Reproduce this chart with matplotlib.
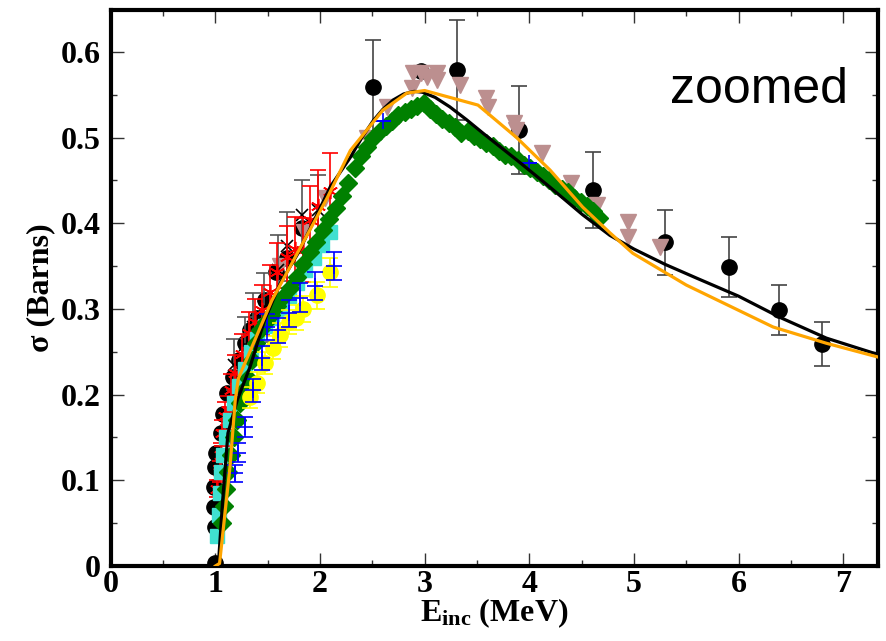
import matplotlib
matplotlib.use("Agg")
import matplotlib.pyplot as plt
from matplotlib.ticker import MultipleLocator

plt.rcParams['font.family'] = ['Liberation Serif', 'DejaVu Serif']
plt.rcParams['font.weight'] = 'bold'
plt.rcParams['mathtext.fontset'] = 'custom'
plt.rcParams['mathtext.rm'] = 'Liberation Serif:bold'
plt.rcParams['mathtext.it'] = 'Liberation Serif:bold'
plt.rcParams['mathtext.bf'] = 'Liberation Serif:bold'

# ---- theory curves ----
black_x = [1.0, 1.03, 1.07, 1.12, 1.21, 1.33, 1.47, 1.62, 1.79, 1.95, 2.10, 2.29, 2.40, 2.51, 2.60, 2.70,
           2.80, 2.90, 2.98, 3.10, 3.24, 3.40, 3.56, 3.88, 4.19, 4.51, 4.77, 5.0, 5.3, 5.6, 6.0, 6.4,
           6.84, 7.33]
black_y = [0.0, 0.004, 0.077, 0.155, 0.194, 0.232, 0.287, 0.33, 0.365, 0.405, 0.443, 0.477, 0.50, 0.52, 0.533,
           0.544, 0.551, 0.554, 0.553, 0.547, 0.536, 0.521, 0.505, 0.474, 0.443, 0.41, 0.386, 0.37, 0.352,
           0.336, 0.315, 0.29, 0.266, 0.247]

orange_x = [1.0, 1.04, 1.14, 1.19, 1.22, 1.54, 2.07, 2.29, 2.60, 2.83, 3.0, 3.51, 3.88, 4.20, 4.51,
            4.77, 4.99, 5.50, 6.33, 6.84, 7.33]
orange_y = [0.0, 0.003, 0.116, 0.194, 0.219, 0.31, 0.43, 0.485, 0.532, 0.552, 0.555, 0.538, 0.50, 0.462, 0.419,
            0.389, 0.365, 0.328, 0.279, 0.26, 0.244]

# ---- black circles with error bars (high energy) ----
bc_x = [2.51, 3.31, 3.90, 4.61, 5.30, 5.91, 6.39, 6.80]
bc_y = [0.559, 0.579, 0.509, 0.439, 0.378, 0.349, 0.299, 0.259]
bc_err = [0.055, 0.058, 0.051, 0.044, 0.038, 0.035, 0.029, 0.026]

# ---- black circles, low energy (no bars) ----
bl_x = [1.0, 1.0, 0.99, 0.99, 1.0, 1.01, 1.05, 1.07, 1.11, 1.17, 1.23, 1.28, 1.33, 1.40, 1.47, 1.58, 1.68, 1.83, 2.97]
bl_y = [0.003, 0.045, 0.069, 0.092, 0.116, 0.132, 0.155, 0.178, 0.202, 0.221, 0.24, 0.26, 0.275, 0.29, 0.31,
        0.343, 0.36, 0.394, 0.578]

# ---- rosy brown triangles ----
tri_x = [1.62, 1.85, 2.05, 2.45, 2.64, 2.88, 2.89, 2.97, 3.02, 3.12, 3.12, 3.34, 3.59, 3.61, 3.85, 3.87,
         4.12, 4.40, 4.65, 4.94, 4.94, 5.25]
tri_y = [0.35, 0.39, 0.43, 0.50, 0.536, 0.558, 0.576, 0.576, 0.571, 0.576, 0.567, 0.561, 0.546, 0.536, 0.517,
         0.509, 0.482, 0.447, 0.421, 0.401, 0.384, 0.372]

# ---- black x with gray error bars ----
xm_x = [1.18, 1.28, 1.36, 1.46, 1.60, 1.68, 1.83, 1.98]
xm_y = [0.235, 0.258, 0.279, 0.302, 0.346, 0.373, 0.41, 0.416]
xm_err = [0.03, 0.033, 0.04, 0.04, 0.04, 0.04, 0.04, 0.04]

# ---- red asterisks ----
red_x = [1.02, 1.04, 1.05, 1.06, 1.09, 1.12, 1.15, 1.19, 1.25, 1.32, 1.38, 1.45, 1.52, 1.59, 1.68, 1.76,
         1.84, 1.90, 1.98, 2.10]
red_y = [0.09, 0.11, 0.13, 0.155, 0.175, 0.182, 0.205, 0.225, 0.248, 0.272, 0.285, 0.299, 0.32, 0.343, 0.361,
         0.37, 0.369, 0.404, 0.42, 0.438]
red_err = [0.01, 0.012, 0.013, 0.015, 0.016, 0.017, 0.019, 0.021, 0.023, 0.025, 0.027, 0.029, 0.031, 0.034,
           0.036, 0.037, 0.037, 0.04, 0.042, 0.044]

# ---- turquoise ----
tq_x = [1.02, 1.03, 1.04, 1.05, 1.07, 1.10, 1.14, 1.18, 1.23, 1.28, 1.34, 1.40, 1.47, 1.54, 1.62, 1.70,
        1.78, 1.86, 1.94, 2.02, 2.10]
tq_y = [0.035, 0.06, 0.085, 0.11, 0.13, 0.15, 0.17, 0.19, 0.21, 0.23, 0.25, 0.265, 0.28, 0.29, 0.30, 0.315,
        0.33, 0.345, 0.36, 0.375, 0.39]

# ---- green diamonds ----
gr_x = [1.06, 1.08, 1.10, 1.12, 1.15, 1.18, 1.21, 1.24, 1.27, 1.31, 1.35, 1.39, 1.43, 1.48, 1.53, 1.59,
        1.65, 1.71, 1.78, 1.84, 1.90, 1.96, 2.03, 2.09, 2.15, 2.21, 2.27, 2.33, 2.39, 2.45, 2.51, 2.57,
        2.63, 2.69, 2.75, 2.81, 2.87, 2.93, 2.99, 3.05, 3.11, 3.17, 3.23, 3.29, 3.35, 3.41, 3.47, 3.53,
        3.59, 3.65, 3.71, 3.77, 3.83, 3.89, 3.95, 4.01, 4.07, 4.13, 4.19, 4.25, 4.31, 4.37, 4.43, 4.49,
        4.55, 4.61, 4.67]
gr_y = [0.05, 0.07, 0.09, 0.11, 0.13, 0.15, 0.17, 0.19, 0.205, 0.22, 0.24, 0.26, 0.275, 0.285, 0.293, 0.303,
        0.314, 0.325, 0.337, 0.352, 0.366, 0.378, 0.392, 0.405, 0.418, 0.432, 0.447, 0.465, 0.478, 0.489, 0.50, 0.508,
        0.514, 0.52, 0.526, 0.53, 0.533, 0.537, 0.54, 0.533, 0.528, 0.522, 0.517, 0.512, 0.506, 0.508, 0.502, 0.498,
        0.494, 0.49, 0.484, 0.48, 0.478, 0.474, 0.468, 0.464, 0.46, 0.455, 0.45, 0.445, 0.44, 0.436, 0.43, 0.425,
        0.42, 0.414, 0.406]

# ---- yellow circles ----
ye_x = [1.33, 1.40, 1.47, 1.55, 1.62, 1.70, 1.77, 1.84, 1.97, 2.10]
ye_y = [0.197, 0.214, 0.237, 0.255, 0.27, 0.285, 0.29, 0.30, 0.316, 0.343]
ye_err = [0.012, 0.012, 0.013, 0.013, 0.014, 0.014, 0.015, 0.015, 0.016, 0.017]

# ---- blue plus ----
bp_x = [1.19, 1.22, 1.28, 1.36, 1.45, 1.49, 1.60, 1.70, 1.81, 1.95, 2.13, 2.60, 4.00]
bp_y = [0.108, 0.132, 0.162, 0.205, 0.243, 0.279, 0.275, 0.295, 0.313, 0.327, 0.35, 0.52, 0.47]
bp_err = [0.01, 0.011, 0.012, 0.013, 0.014, 0.015, 0.015, 0.016, 0.017, 0.016, 0.016, 0.0, 0.0]

fig, ax = plt.subplots(figsize=(8.86, 6.41), dpi=100)
fig.subplots_adjust(left=0.125, right=0.9906, bottom=0.117, top=0.9844)

ax.errorbar(bc_x, bc_y, yerr=bc_err, fmt='o', color='black', ecolor='#444444', ms=11,
            elinewidth=1.2, capsize=5.5, capthick=1.2, zorder=2)
ax.plot(bl_x, bl_y, 'o', color='black', ms=11, zorder=2)
ax.plot(tri_x, tri_y, 'v', color='#bc8f8f', ms=12, zorder=3)
ax.errorbar(xm_x, xm_y, yerr=xm_err, fmt='x', color='black', ecolor='#555555', ms=9, mew=1.2,
            elinewidth=1.2, capsize=5.5, capthick=1.2, zorder=4)
ax.errorbar(red_x, red_y, yerr=red_err, fmt='none', ecolor='red',
            elinewidth=1.2, capsize=5.5, capthick=1.2, zorder=5)
ax.plot(red_x, red_y, ls='none', marker=(6, 2, 0), color='red', ms=11, mew=1.2, zorder=5)
ax.plot(tq_x, tq_y, 's', color='#40e0d0', ms=10, zorder=6)
ax.errorbar(gr_x, gr_y, xerr=0.04, fmt='D', color='green', ecolor='#2ca02c', ms=9,
            elinewidth=1.0, capsize=0, zorder=7)
ax.errorbar(ye_x, ye_y, yerr=ye_err, fmt='o', color='yellow', ecolor='yellow', ms=11,
            elinewidth=1.2, capsize=5.5, capthick=1.2, zorder=8)
ax.errorbar(bp_x, bp_y, yerr=bp_err, fmt='+', color='blue', ecolor='blue', ms=12, mew=1.2,
            elinewidth=1.2, capsize=5.5, capthick=1.2, zorder=9)

ax.plot(black_x, black_y, color='black', lw=2.3, zorder=10)
ax.plot(orange_x, orange_y, color='orange', lw=2.3, zorder=11)

ax.set_xlim(0, 7.33)
ax.set_ylim(0, 0.649)
ax.xaxis.set_major_locator(MultipleLocator(1))
ax.xaxis.set_minor_locator(MultipleLocator(0.5))
ax.yaxis.set_major_locator(MultipleLocator(0.1))
ax.yaxis.set_minor_locator(MultipleLocator(0.05))
ax.set_yticks([0, 0.1, 0.2, 0.3, 0.4, 0.5, 0.6], ['0', '0.1', '0.2', '0.3', '0.4', '0.5', '0.6'])
ax.tick_params(which='both', direction='in', top=True, right=True, width=1.0, color='#333333')
ax.tick_params(which='major', length=9.5, labelsize=23)
ax.tick_params(axis='x', which='major', pad=3)
ax.tick_params(axis='y', which='major', pad=7)
ax.tick_params(which='minor', length=4.5)
for s in ax.spines.values():
    s.set_linewidth(3)

ax.set_xlabel(r"E$_{\rm inc}$ (MeV)", fontsize=23, fontweight='bold', labelpad=-2)
ax.set_ylabel("σ (Barns)", fontsize=23, fontweight='bold', labelpad=4)

ax.text(0.961, 0.833, "zoomed", transform=ax.transAxes, ha='right', va='baseline',
        fontsize=36, family='Liberation Sans', fontweight='normal')

fig.savefig("out.png", dpi=100)
